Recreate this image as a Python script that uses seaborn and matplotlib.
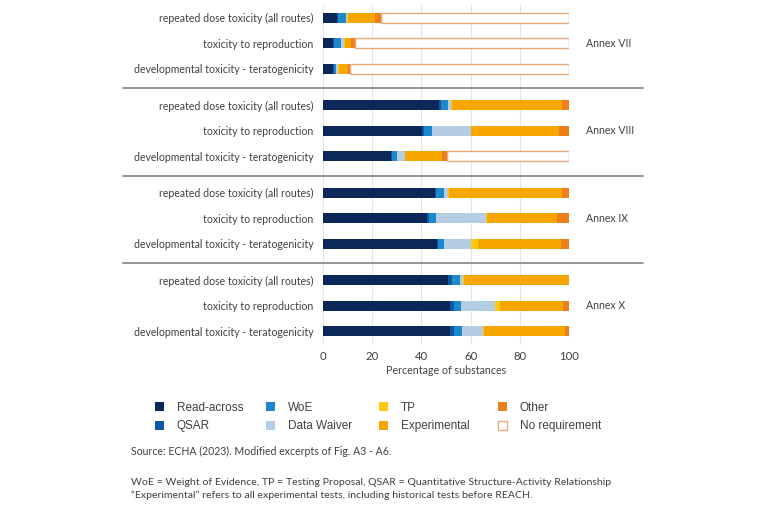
import numpy as np
import matplotlib
matplotlib.use("Agg")
import matplotlib.pyplot as plt
from matplotlib.patches import Patch
import seaborn as sns

# ---------------- data ----------------
annexes = ["Annex VII", "Annex VIII", "Annex IX", "Annex X"]
endpoints = ["repeated dose toxicity (all routes)",
             "toxicity to reproduction",
             "developmental toxicity - teratogenicity"]

# rows ordered: Annex VII (3 endpoints), Annex VIII, Annex IX, Annex X
read_across    = [5.5, 4.0, 4.0, 47.3, 40.4, 27.6, 45.5, 42.4, 46.2, 51.0, 51.6, 51.6]
qsar           = [0.5, 0.3, 0.3, 0.5, 0.5, 0.5, 0.5, 0.8, 0.5, 1.4, 1.6, 1.6]
woe            = [3.5, 3.0, 1.0, 3.0, 3.5, 2.0, 3.2, 2.8, 2.5, 3.1, 2.8, 3.4]
data_waiver    = [0.3, 1.2, 1.0, 1.3, 15.6, 3.1, 1.6, 20.3, 11.1, 1.4, 13.8, 8.5]
tp             = [0.2, 0.3, 0.2, 0.3, 0.3, 0.3, 0.3, 0.3, 2.7, 0.3, 2.0, 0.3]
experimental   = [11.0, 2.4, 3.5, 44.6, 35.8, 14.8, 46.1, 28.7, 33.7, 42.8, 25.9, 33.0]
other          = [2.4, 2.0, 1.0, 3.0, 3.9, 2.2, 2.8, 4.7, 3.3, 0.0, 2.3, 1.6]
no_requirement = [76.6, 86.8, 89.0, 0.0, 0.0, 49.5, 0.0, 0.0, 0.0, 0.0, 0.0, 0.0]

xticks = [0, 20, 40, 60, 80, 100]
xlabel = "Percentage of substances"
source_text = "Source: ECHA (2023). Modified excerpts of Fig. A3 - A6."
note_text = ("WoE = Weight of Evidence, TP = Testing Proposal, QSAR = Quantitative Structure-Activity Relationship\n"
             "\u201cExperimental\u201d refers to all experimental tests, including historical tests before REACH.")

series = [
    ("Read-across", read_across, "#0b2858"),
    ("QSAR", qsar, "#0d56a6"),
    ("WoE", woe, "#1d87cc"),
    ("Data Waiver", data_waiver, "#b4cde3"),
    ("TP", tp, "#ffc90e"),
    ("Experimental", experimental, "#f7a600"),
    ("Other", other, "#ee7d1c"),
]
noreq_label = "No requirement"
noreq_edge = "#eaa77a"

# ---------------- style ----------------
sns.set_theme(style="whitegrid")
plt.rcParams["font.family"] = ["Lato", "DejaVu Sans"]
text_col = "#404040"

fig = plt.figure(figsize=(7.68, 5.09), dpi=100)
W, H = 768, 509
ax = fig.add_axes([323 / W, 1 - 345 / H, (569 - 323) / W, (345 - 5) / H])

group_step = 3.45
ypos = []
for g in range(len(annexes)):
    for i in range(len(endpoints)):
        ypos.append(g * group_step + i)
ypos = np.array(ypos)
bar_h = 0.40

left = np.zeros(len(ypos))
for name, vals, col in series:
    vals = np.array(vals)
    ax.barh(ypos, vals, left=left, height=bar_h, color=col, edgecolor="none", zorder=3)
    left = left + vals
nr = np.array(no_requirement)
mask = nr > 0
ax.barh(ypos[mask], nr[mask], left=left[mask], height=bar_h, color="white",
        edgecolor=noreq_edge, linewidth=1.0, zorder=3)

ax.set_xlim(0, 100)
ax.set_ylim(ypos[-1] + 0.55, -0.51)
ax.set_xticks(xticks)
ax.set_xticklabels([str(t) for t in xticks], fontsize=8.2, color=text_col)
ax.tick_params(axis="x", pad=4, length=0)
ax.set_yticks(ypos)
ax.set_yticklabels(endpoints * len(annexes), fontsize=7.6, color=text_col)
ax.tick_params(axis="y", pad=7, length=0)
ax.set_xlabel(xlabel, fontsize=7.7, color=text_col, labelpad=2.5)
ax.grid(axis="y", visible=False)
ax.grid(axis="x", color="#e4e4e4", linewidth=0.8, zorder=0)
for s in ax.spines.values():
    s.set_visible(False)

# Annex labels
for g, a in enumerate(annexes):
    ax.text(1.07, g * group_step + 1, a, transform=ax.get_yaxis_transform(),
            ha="left", va="center", fontsize=7.6, color=text_col)

# Separator lines between annexes
for g in range(1, len(annexes)):
    ysep = g * group_step - (group_step - 2) / 2 + 0.05
    ax.plot([-0.813, 1.30], [ysep, ysep], transform=ax.get_yaxis_transform(),
            color="#8c8c8c", linewidth=1.3, clip_on=False, zorder=5)

# Legend: four columns of two entries each
handles = []
labels = []
for name, vals, col in series:
    handles.append(Patch(facecolor=col, edgecolor="none"))
    labels.append(name)
handles.append(Patch(facecolor="white", edgecolor=noreq_edge, linewidth=1.0))
labels.append(noreq_label)

col_x = [149, 260, 373, 492]
for c in range(4):
    leg = fig.legend(handles[2 * c:2 * c + 2], labels[2 * c:2 * c + 2],
                     loc="upper left", bbox_to_anchor=(col_x[c] / W, 1 - 396 / H),
                     frameon=False, borderpad=0,
                     prop={"family": "Liberation Sans", "size": 8.5},
                     handlelength=0.75, handleheight=0.75, handletextpad=1.1,
                     labelspacing=0.55)
    for t in leg.get_texts():
        t.set_color(text_col)

fig.text(131 / W, 1 - 451 / H, source_text, fontsize=7.6, color=text_col, va="center")
fig.text(131 / W, 1 - 489 / H, note_text, fontsize=7.55, color=text_col, va="center",
         linespacing=1.5)

fig.savefig("out.png", dpi=100)
